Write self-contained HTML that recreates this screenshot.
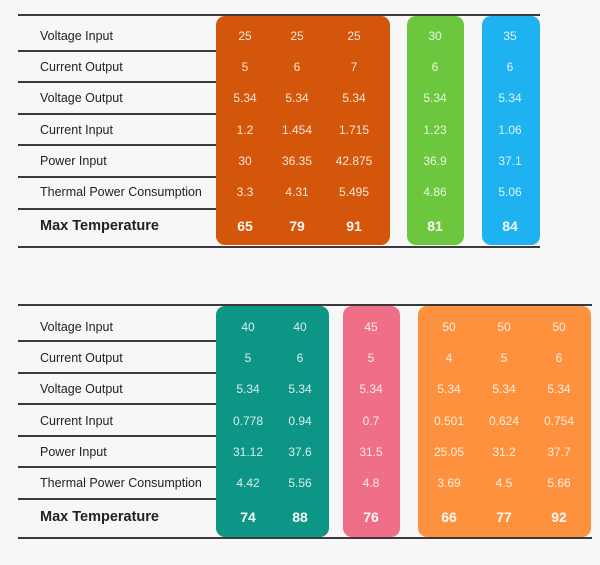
<!DOCTYPE html>
<html><head><style>
body{margin:0;width:600px;height:565px;background:#f7f7f7;font-family:"Liberation Sans",sans-serif;position:relative;overflow:hidden}
.a{position:absolute}
.l{position:absolute;height:2px;background:#3a3a3a}
.lb{position:absolute;left:40px;font-size:12.5px;color:#222;transform:translateY(-50%)}
.mx{font-size:14.5px;font-weight:bold}
.box{position:absolute;border-radius:9px}
.v{position:absolute;font-size:12px;color:rgba(255,255,255,0.85);transform:translate(-50%,-50%);white-space:nowrap}
.vb{font-size:14px;font-weight:bold;color:rgba(255,255,255,0.95)}
</style></head><body>
<div class="l" style="left:18px;top:14px;width:522px"></div>
<div class="l" style="left:18px;top:246px;width:522px"></div>
<div class="l" style="left:18px;top:304px;width:574px"></div>
<div class="l" style="left:18px;top:537px;width:574px"></div>
<div id="c"></div>
<script>
var c=document.getElementById('c'),h='';
var labels=["Voltage Input","Current Output","Voltage Output","Current Input","Power Input","Thermal Power Consumption","Max Temperature"];
function tbl(ys,lines,boxes,cols,data,bt,bb){
 lines.forEach(function(y){h+='<div class="l" style="left:18px;top:'+y+'px;width:200px"></div>'});
 labels.forEach(function(t,i){h+='<div class="lb'+(i==6?' mx':'')+'" style="top:'+ys[i]+'px">'+t+'</div>'});
 boxes.forEach(function(b){h+='<div class="box" style="left:'+b[0]+'px;width:'+(b[1]-b[0])+'px;top:'+bt+'px;height:'+(bb-bt)+'px;background:'+b[2]+'"></div>'});
 cols.forEach(function(x,j){data[j].forEach(function(v,i){h+='<div class="v'+(i==6?' vb':'')+'" style="left:'+x+'px;top:'+ys[i]+'px">'+v+'</div>'})});
}
tbl([36,67,98,130,161,192,226],[50,81,113,144,176,208],
 [[216,390,'#d4560b'],[407,464,'#6cc73e'],[482,540,'#1fb2f1']],[245,297,354,435,510],
 [[25,5,5.34,1.2,30,3.3,65],[25,6,5.34,1.454,36.35,4.31,79],[25,7,5.34,1.715,42.875,5.495,91],[30,6,5.34,1.23,36.9,4.86,81],[35,6,5.34,1.06,37.1,5.06,84]],16,245);
tbl([327,358,389,421,452,483,517],[340,372,403,435,466,498],
 [[216,329,'#0d9585'],[343,400,'#ef6f89'],[418,591,'#fe913e']],[248,300,371,449,504,559],
 [[40,5,5.34,0.778,31.12,4.42,74],[40,6,5.34,0.94,37.6,5.56,88],[45,5,5.34,0.7,31.5,4.8,76],[50,4,5.34,0.501,25.05,3.69,66],[50,5,5.34,0.624,31.2,4.5,77],[50,6,5.34,0.754,37.7,5.66,92]],306,537);
c.innerHTML=h;
</script>
</body></html>
